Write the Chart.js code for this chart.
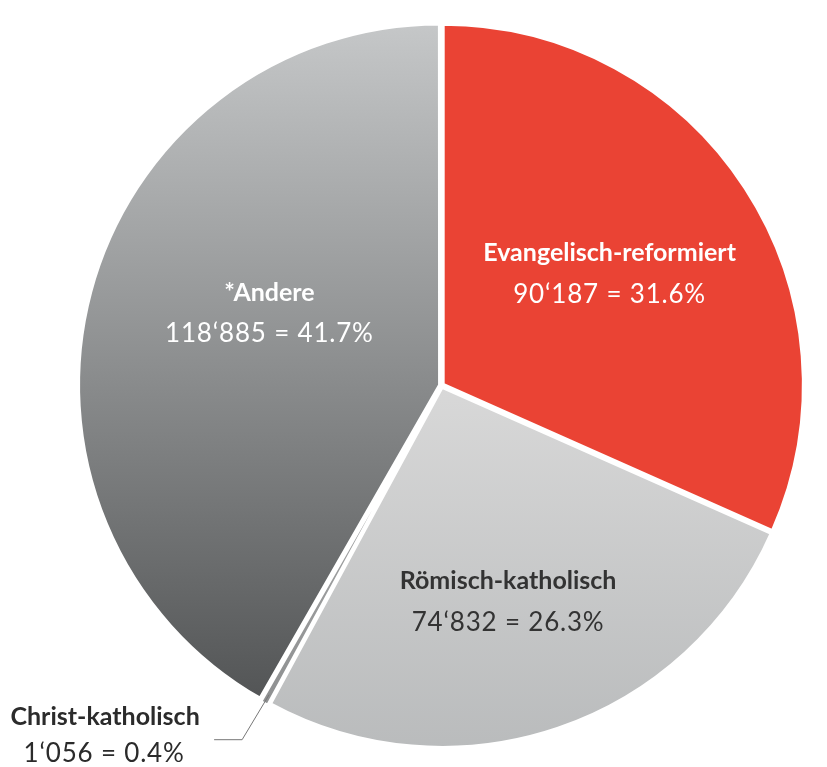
<!DOCTYPE html>
<html>
<head>
<meta charset="utf-8">
<script src="https://cdn.jsdelivr.net/npm/chart.js@4"></script>
<style>
  html, body { margin: 0; padding: 0; background: #ffffff; }
  #wrap { width: 827px; height: 767px; position: relative; }
</style>
</head>
<body>
<div id="wrap"><canvas id="pie"></canvas></div>
<script>
// Konfessionen (clockwise from top)
const categories = ['Evangelisch-reformiert', 'Römisch-katholisch', 'Christ-katholisch', '*Andere'];
const counts = [90187, 74832, 1056, 118885];
const countLabels = ['90‘187', '74‘832', '1‘056', '118‘885'];
const percentLabels = ['31.6%', '26.3%', '0.4%', '41.7%'];

const fontFamily = 'Lato, "Open Sans", sans-serif';

// gradient fills per slice, built from the chart area
function sliceFill(ctx) {
  const chart = ctx.chart;
  const area = chart.chartArea;
  if (!area) return '#999';
  const g = chart.ctx.createLinearGradient(0, area.top, 0, area.bottom);
  switch (ctx.dataIndex) {
    case 0:
      return '#ea4334';
    case 1:
      g.addColorStop(0, '#e6e6e6');
      g.addColorStop(0.5, '#d8d8d8');
      g.addColorStop(1, '#b9bbbc');
      return g;
    case 2:
      g.addColorStop(0, '#d0d0d0');
      g.addColorStop(1, '#8a8c8d');
      return g;
    default:
      g.addColorStop(0, '#c6c8c9');
      g.addColorStop(0.45, '#8f9192');
      g.addColorStop(1, '#4a4c4d');
      return g;
  }
}

// label placement relative to pie centre, in units of radius
const labelSpots = [
  { fx: 0.467, fy: -0.367, title: '#ffffff', value: '#ffffff' },
  { fx: 0.185, fy: 0.544, title: '#333333', value: '#333333' },
  null,
  { fx: -0.478, fy: -0.257, title: '#ffffff', value: '#ffffff' },
];

function drawValue(ctx, text, x, y) {
  ctx.font = '26px ' + fontFamily;
  ctx.letterSpacing = '0.8px';
  ctx.fillText(text, x, y);
  ctx.letterSpacing = '0px';
}

const labelPlugin = {
  id: 'sliceLabels',
  afterDatasetsDraw(chart) {
    const ctx = chart.ctx;
    const meta = chart.getDatasetMeta(0);
    const cx = (chart.chartArea.left + chart.chartArea.right) / 2;
    const cy = (chart.chartArea.top + chart.chartArea.bottom) / 2;
    const r = meta.data[0].outerRadius;
    ctx.save();
    ctx.textAlign = 'center';
    ctx.textBaseline = 'middle';
    categories.forEach((name, i) => {
      const spot = labelSpots[i];
      const valueText = countLabels[i] + ' = ' + percentLabels[i];
      if (spot) {
        const x = cx + spot.fx * r;
        const y = cy + spot.fy * r;
        ctx.fillStyle = spot.title;
        ctx.font = 'bold 25px ' + fontFamily;
        ctx.fillText(name, x, y);
        ctx.fillStyle = spot.value;
        drawValue(ctx, valueText, x, y + 41);
        return;
      }
      // small slice: leader line out to the lower left
      const arc = meta.data[i];
      const mid = (arc.startAngle + arc.endAngle) / 2;
      const px = arc.x + Math.cos(mid) * (arc.outerRadius - 6);
      const py = arc.y + Math.sin(mid) * (arc.outerRadius - 6);
      const kx = px - 27;
      const ky = py + 45;
      ctx.strokeStyle = '#777777';
      ctx.lineWidth = 1;
      ctx.beginPath();
      ctx.moveTo(px, py);
      ctx.lineTo(kx, ky);
      ctx.lineTo(kx - 28, ky);
      ctx.stroke();
      ctx.fillStyle = '#2b2b2b';
      ctx.font = 'bold 25px ' + fontFamily;
      ctx.fillText(name, kx - 137, ky - 23);
      drawValue(ctx, valueText, kx - 138, ky + 14);
    });
    ctx.restore();
  }
};

new Chart(document.getElementById('pie'), {
  type: 'pie',
  data: {
    labels: categories,
    datasets: [{
      data: counts,
      backgroundColor: sliceFill,
      borderColor: '#ffffff',
      borderWidth: 3,
      offset: 8,
    }],
  },
  options: {
    responsive: true,
    maintainAspectRatio: false,
    animation: false,
    layout: { padding: { left: 76, right: 20, top: 20, bottom: 16 } },
    plugins: {
      legend: { display: false },
      tooltip: { enabled: false },
    },
  },
  plugins: [labelPlugin],
});
</script>
</body>
</html>
